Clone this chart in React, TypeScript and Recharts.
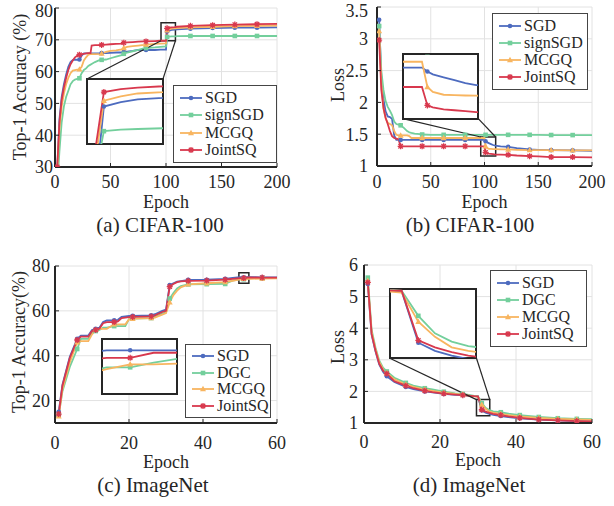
import React from 'react'
import {
  LineChart,
  Line,
  XAxis,
  YAxis,
  CartesianGrid,
  ReferenceArea,
  ReferenceLine,
} from 'recharts'

const FONT = '"Liberation Serif", "Times New Roman", Times, serif'
const INK = '#262626'
const colors = ['#4d6bbf', '#73cf9c', '#f8b560', '#d8384d']
const keys = ['s0', 's1', 's2', 's3']

const cifarNames = ['SGD', 'signSGD', 'MCGQ', 'JointSQ']
const imagenetNames = ['SGD', 'DGC', 'MCGQ', 'JointSQ']

// (a) CIFAR-100 top-1 accuracy
const epochsA = [2, 4, 6, 8, 10, 12, 14, 16, 18, 20, 22, 24, 26, 28, 30, 32, 33, 36, 40, 42, 46, 50, 55, 60, 62, 65, 70, 75, 80, 82, 90, 95, 100, 101, 103, 105, 108, 110, 122, 142, 162, 182, 200]
const sgdA = [29, 45, 52, 56, 59, 61.5, 63, 63.6, 63.8, 63.7, 63.8, 65, 65.7, 65.7, 65.7, 65.7, 65.7, 65.7, 65.7, 65.8, 65.8, 65.9, 66, 66, 66.2, 66.3, 66.5, 66.8, 66.8, 66.8, 66.8, 66.9, 66.9, 72.6, 72.9, 73.1, 73.2, 73.3, 73.5, 73.7, 73.8, 73.8, 73.9]
const signA = [24, 35, 44, 49, 52, 54, 56, 57, 57.5, 57.7, 57.9, 59.5, 60.5, 61, 61.8, 62.2, 62.4, 63, 63.6, 63.7, 63.8, 64.2, 64.7, 65.2, 65.6, 66, 66.4, 66.8, 67.3, 67.4, 67.6, 67.8, 67.9, 70.9, 71, 71.05, 71.1, 71.15, 71.2, 71.2, 71.2, 71.2, 71.2]
const mcgqA = [29, 42, 49, 53, 56, 58, 59.5, 60.3, 60.5, 60.6, 60.7, 61.5, 63.5, 64.5, 65.3, 65.5, 65.5, 65.5, 65.6, 65.7, 66.2, 66.5, 66.7, 67, 67.4, 67.8, 68, 68.2, 68.4, 68.5, 68.7, 68.8, 68.9, 73, 73.3, 73.5, 73.6, 73.7, 73.9, 74.1, 74.3, 74.4, 74.5]
const jointA = [30, 44, 51, 55, 58, 60.5, 62.3, 63.5, 64.5, 65, 65.3, 65.5, 65.6, 65.7, 65.8, 65.8, 68.2, 68.3, 68.3, 68.4, 68.5, 68.6, 68.7, 68.8, 69.1, 69.2, 69.3, 69.4, 69.5, 69.5, 69.6, 69.7, 69.7, 73.6, 73.8, 73.9, 74, 74.1, 74.4, 74.6, 74.8, 74.9, 75]

// (b) CIFAR-100 loss
const epochsB = [2, 4, 6, 8, 10, 12, 14, 16, 18, 20, 22, 25, 28, 30, 32, 35, 40, 42, 50, 62, 82, 95, 100, 101, 102, 104, 106, 108, 110, 115, 122, 130, 142, 150, 162, 182, 200]
const sgdB = [3.3, 2.4, 2.05, 1.86, 1.78, 1.77, 1.74, 1.48, 1.41, 1.41, 1.41, 1.41, 1.41, 1.41, 1.41, 1.41, 1.41, 1.41, 1.41, 1.41, 1.41, 1.41, 1.41, 1.39, 1.375, 1.36, 1.345, 1.33, 1.32, 1.31, 1.3, 1.28, 1.26, 1.255, 1.25, 1.245, 1.24]
const signB = [3.2, 2.5, 2.2, 2.02, 1.93, 1.87, 1.8, 1.7, 1.66, 1.65, 1.64, 1.6, 1.55, 1.53, 1.52, 1.51, 1.5, 1.495, 1.49, 1.49, 1.49, 1.49, 1.49, 1.49, 1.49, 1.49, 1.49, 1.49, 1.49, 1.49, 1.49, 1.49, 1.49, 1.488, 1.487, 1.486, 1.485]
const mcgqB = [3.12, 2.3, 1.9, 1.75, 1.68, 1.66, 1.64, 1.55, 1.49, 1.48, 1.48, 1.48, 1.48, 1.47, 1.44, 1.44, 1.44, 1.44, 1.44, 1.44, 1.44, 1.44, 1.44, 1.31, 1.285, 1.27, 1.268, 1.266, 1.265, 1.262, 1.26, 1.255, 1.25, 1.25, 1.25, 1.245, 1.245]
const jointB = [2.98, 2.2, 1.92, 1.76, 1.66, 1.55, 1.47, 1.44, 1.43, 1.42, 1.31, 1.31, 1.31, 1.31, 1.31, 1.31, 1.31, 1.31, 1.31, 1.31, 1.31, 1.31, 1.31, 1.215, 1.205, 1.195, 1.19, 1.185, 1.18, 1.18, 1.175, 1.165, 1.155, 1.15, 1.14, 1.14, 1.135]

// (c) ImageNet top-1 accuracy
const epochsC = [1, 2, 4, 6, 7, 9, 10, 11, 12, 13, 14, 16, 17, 18, 19, 20, 21, 26, 27, 29, 30, 31, 32, 33, 34, 36, 41, 46, 47, 48, 50, 51, 52, 53, 56, 60]
const sgdC = [15, 27, 39.5, 47.5, 49, 49, 51.5, 52, 52.5, 55, 55.7, 55.8, 56, 57.3, 57.5, 57.7, 57.8, 58, 58.5, 60, 60.5, 71.5, 72.3, 73, 73.3, 73.8, 73.9, 74.3, 74.5, 74.7, 75, 75, 75, 75, 74.95, 74.95]
const dgcC = [13.5, 24, 35, 43, 47.5, 47.5, 50.5, 51, 51.5, 52.5, 52.5, 53.2, 53.2, 53.2, 53.2, 56.3, 56.5, 56.8, 57.3, 58.8, 59.3, 65.5, 68, 70, 71, 71.8, 71.9, 72, 72.8, 73.5, 74.1, 74.1, 74.35, 74.55, 74.55, 74.55]
const mcgqC = [13, 25, 37, 46, 46.5, 46.5, 49.5, 51.5, 52, 52, 52, 54, 54, 54, 54, 56.2, 56.5, 56.8, 57, 58.3, 59, 63.8, 67, 69, 70.5, 71.8, 72.3, 72.8, 73.1, 73.4, 74, 74.26, 74.26, 74.3, 74.4, 74.45]
const jointC = [14, 26.5, 39, 47, 48.5, 48.5, 51, 51.5, 52, 54.5, 55, 55, 55.3, 56.8, 57, 57.2, 57.3, 57.5, 58, 59.5, 60, 70.8, 72, 72.8, 73.1, 73.4, 73.5, 73.9, 74.1, 74.3, 74.6, 74.6, 74.87, 74.87, 74.85, 74.85]

// (d) ImageNet loss
const epochsD = [1, 2, 3, 4, 5, 6, 8, 11, 13, 16, 18, 21, 24, 26, 28, 29, 30, 31, 32, 33, 34, 36, 38, 41, 46, 51, 56, 60]
const sgdD = [5.4, 3.8, 3.28, 2.85, 2.62, 2.48, 2.3, 2.14, 2.07, 2.0, 1.97, 1.92, 1.89, 1.88, 1.86, 1.85, 1.84, 1.4, 1.33, 1.29, 1.26, 1.22, 1.19, 1.15, 1.11, 1.08, 1.06, 1.05]
const dgcD = [5.6, 3.95, 3.4, 2.98, 2.75, 2.63, 2.43, 2.27, 2.18, 2.1, 2.06, 1.99, 1.94, 1.92, 1.88, 1.86, 1.845, 1.63, 1.48, 1.41, 1.37, 1.34, 1.3, 1.25, 1.19, 1.15, 1.13, 1.12]
const mcgqD = [5.5, 3.88, 3.35, 2.93, 2.7, 2.58, 2.38, 2.22, 2.14, 2.06, 2.02, 1.96, 1.92, 1.9, 1.86, 1.84, 1.83, 1.58, 1.45, 1.36, 1.33, 1.29, 1.25, 1.21, 1.16, 1.13, 1.11, 1.1]
const jointD = [5.45, 3.82, 3.3, 2.88, 2.66, 2.56, 2.32, 2.18, 2.1, 2.02, 1.98, 1.93, 1.9, 1.88, 1.86, 1.85, 1.845, 1.42, 1.36, 1.32, 1.29, 1.25, 1.21, 1.16, 1.11, 1.08, 1.06, 1.05]

// epochs where a marker is drawn
const cifarMarks = [2, 22, 42, 62, 82, 101, 122, 142, 162, 182]
const imagenetMarks = [1, 6, 11, 16, 21, 26, 31, 36, 41, 46, 51, 56]

const toRows = (epochs: number[], s: number[][]) =>
  epochs.map((epoch, i) => ({ epoch, s0: s[0][i], s1: s[1][i], s2: s[2][i], s3: s[3][i] }))

const marker = (kind: number, cx: number, cy: number, color: string, key?: string) => {
  if (kind === 0) return <circle key={key} cx={cx} cy={cy} r={2.3} fill={color} />
  if (kind === 1) return <rect key={key} x={cx - 2.3} y={cy - 2.3} width={4.6} height={4.6} fill={color} />
  if (kind === 2)
    return <polygon key={key} points={`${cx},${cy - 3.2} ${cx - 3},${cy + 2.2} ${cx + 3},${cy + 2.2}`} fill={color} />
  return (
    <path
      key={key}
      d={`M${cx - 3},${cy}H${cx + 3}M${cx},${cy - 3}V${cy + 3}M${cx - 2.2},${cy - 2.2}L${cx + 2.2},${cy + 2.2}M${cx - 2.2},${cy + 2.2}L${cx + 2.2},${cy - 2.2}`}
      stroke={color}
      strokeWidth={1.3}
    />
  )
}

const dotFor = (kind: number, marks: number[]) => (props: any) => {
  const { cx, cy, payload, index } = props
  const key = `d${kind}-${index}`
  if (cx == null || cy == null || !marks.includes(payload.epoch)) return <g key={key} />
  return marker(kind, cx, cy, colors[kind], key)
}

const seriesLines = (marks: number[]) =>
  keys.map((k, i) => (
    <Line
      key={k}
      dataKey={k}
      type='linear'
      stroke={colors[i]}
      strokeWidth={1.8}
      dot={dotFor(i, marks)}
      activeDot={false}
      isAnimationActive={false}
    />
  ))

const Text = ({ x, y, size, children, rotate }: any) => (
  <div
    style={{
      position: 'absolute',
      left: x,
      top: y,
      transform: `translate(-50%, -50%)${rotate ? ' rotate(-90deg)' : ''}`,
      fontFamily: FONT,
      fontSize: size,
      lineHeight: 1,
      whiteSpace: 'nowrap',
      color: INK,
    }}
  >
    {children}
  </div>
)

const LegendBox = ({ names, box }: any) => (
  <div
    style={{
      position: 'absolute',
      left: box.left,
      top: box.top,
      width: box.width,
      height: box.height,
      boxSizing: 'border-box',
      border: '1px solid #454545',
      background: '#fff',
      padding: '3px 0 3px 6px',
      display: 'flex',
      flexDirection: 'column',
      justifyContent: 'space-around',
      fontFamily: FONT,
      fontSize: 16,
      color: INK,
    }}
  >
    {names.map((n: string, i: number) => (
      <div key={n} style={{ display: 'flex', alignItems: 'center', lineHeight: 1 }}>
        <svg width={23} height={10} style={{ flex: 'none' }}>
          <line x1={0} y1={5} x2={22} y2={5} stroke={colors[i]} strokeWidth={1.8} />
          {marker(i, 11, 5, colors[i])}
        </svg>
        <span style={{ marginLeft: 2 }}>{n}</span>
      </div>
    ))}
  </div>
)

function Panel(p: any) {
  const { x, y, w, h, plot, rows, marks, xDomain, yDomain, xTicks, yTicks, inset } = p
  const px = (v: number) => plot.left + ((v - xDomain[0]) / (xDomain[1] - xDomain[0])) * (plot.right - plot.left)
  const py = (v: number) => plot.top + ((yDomain[1] - v) / (yDomain[1] - yDomain[0])) * (plot.bottom - plot.top)
  const il = px(inset.box[0])
  const ir = px(inset.box[1])
  const it = py(inset.box[3])
  const ib = py(inset.box[2])
  const axisLine = { stroke: INK, strokeWidth: 2 }
  const tickStyle = { fill: INK, fontSize: 18, fontFamily: FONT }

  return (
    <div style={{ position: 'absolute', left: x, top: y, width: w, height: h }}>
      <LineChart
        width={w}
        height={h}
        data={rows}
        margin={{ top: plot.top, right: w - plot.right, bottom: h - plot.bottom - 30, left: plot.left - 40 }}
      >
        <CartesianGrid stroke='#e2e2e2' />
        <XAxis
          dataKey='epoch'
          type='number'
          domain={xDomain}
          ticks={xTicks}
          allowDataOverflow
          height={30}
          tickSize={-4}
          tickMargin={p.xTickMargin}
          axisLine={axisLine}
          tickLine={{ stroke: INK }}
          tick={tickStyle}
        />
        <XAxis
          xAxisId='top'
          orientation='top'
          type='number'
          domain={xDomain}
          ticks={xTicks}
          height={0}
          tickSize={-4}
          tickFormatter={() => ''}
          axisLine={axisLine}
          tickLine={{ stroke: INK }}
        />
        <YAxis
          type='number'
          domain={yDomain}
          ticks={yTicks}
          allowDataOverflow
          width={40}
          tickSize={-4}
          tickMargin={p.yTickMargin}
          axisLine={axisLine}
          tickLine={{ stroke: INK }}
          tick={tickStyle}
        />
        <YAxis
          yAxisId='right'
          orientation='right'
          type='number'
          domain={yDomain}
          ticks={yTicks}
          width={0}
          tickSize={-4}
          tickFormatter={() => ''}
          axisLine={axisLine}
          tickLine={{ stroke: INK }}
        />
        {seriesLines(marks)}
        <ReferenceArea
          x1={inset.zoom[0]}
          x2={inset.zoom[1]}
          y1={inset.zoom[2]}
          y2={inset.zoom[3]}
          fill='none'
          stroke={INK}
          strokeWidth={1.5}
          ifOverflow='visible'
        />
        {inset.links.map((l: number[], i: number) => (
          <ReferenceLine
            key={i}
            segment={[
              { x: l[0], y: l[1] },
              { x: l[2], y: l[3] },
            ]}
            stroke={INK}
            strokeWidth={1.2}
            ifOverflow='visible'
          />
        ))}
      </LineChart>

      <div
        style={{
          position: 'absolute',
          left: il,
          top: it,
          width: ir - il,
          height: ib - it,
          background: '#fff',
          outline: `2.5px solid ${INK}`,
          outlineOffset: -1,
        }}
      >
        <LineChart width={ir - il} height={ib - it} data={rows} margin={{ top: 0, right: 0, bottom: 0, left: 0 }}>
          <XAxis dataKey='epoch' type='number' domain={inset.xDomain} allowDataOverflow hide />
          <YAxis type='number' domain={inset.yDomain} allowDataOverflow hide />
          {seriesLines(marks)}
        </LineChart>
      </div>

      <LegendBox names={p.names} box={p.legend} />
      <Text x={p.yLabelAt[0]} y={p.yLabelAt[1]} size={18} rotate>
        {p.yLabel}
      </Text>
      <Text x={p.xLabelAt[0]} y={p.xLabelAt[1]} size={18}>
        Epoch
      </Text>
      <Text x={p.captionAt[0]} y={p.captionAt[1]} size={21}>
        {p.caption}
      </Text>
    </div>
  )
}

const rowsA = toRows(epochsA, [sgdA, signA, mcgqA, jointA])
const rowsB = toRows(epochsB, [sgdB, signB, mcgqB, jointB])
const rowsC = toRows(epochsC, [sgdC, dgcC, mcgqC, jointC])
const rowsD = toRows(epochsD, [sgdD, dgcD, mcgqD, jointD])

export default function App() {
  return (
    <div style={{ position: 'absolute', left: 0, top: 0, width: 614, height: 506, background: '#fff' }}>
      <Panel
        x={0}
        y={0}
        w={307}
        h={250}
        plot={{ left: 55, top: 8, right: 277, bottom: 167 }}
        rows={rowsA}
        marks={cifarMarks}
        names={cifarNames}
        xDomain={[0, 200]}
        xTicks={[0, 50, 100, 150, 200]}
        yDomain={[30, 80]}
        yTicks={[30, 40, 50, 60, 70, 80]}
        xTickMargin={12}
        yTickMargin={6}
        yLabel='Top-1 Accuracy (%)'
        yLabelAt={[20, 87]}
        xLabelAt={[166, 202]}
        caption='(a) CIFAR-100'
        captionAt={[160, 225]}
        legend={{ left: 173, top: 85, width: 104, height: 78 }}
        inset={{
          box: [28.8, 97.3, 37.2, 57.7],
          xDomain: [99, 108],
          yDomain: [70, 74.5],
          zoom: [95.5, 108.5, 69.7, 75.4],
          links: [
            [95.5, 69.7, 28.8, 57.7],
            [108.5, 69.7, 97.3, 57.7],
          ],
        }}
      />
      <Panel
        x={307}
        y={0}
        w={307}
        h={250}
        plot={{ left: 70, top: 7, right: 285, bottom: 166 }}
        rows={rowsB}
        marks={cifarMarks}
        names={cifarNames}
        xDomain={[0, 200]}
        xTicks={[0, 50, 100, 150, 200]}
        yDomain={[1, 3.5]}
        yTicks={[1, 1.5, 2, 2.5, 3, 3.5]}
        xTickMargin={13}
        yTickMargin={13}
        yLabel='Loss'
        yLabelAt={[30.5, 85]}
        xLabelAt={[177.5, 202]}
        caption='(b) CIFAR-100'
        captionAt={[163, 225]}
        legend={{ left: 185, top: 13, width: 96, height: 77 }}
        inset={{
          box: [24.1, 94.2, 1.745, 2.767],
          xDomain: [96.5, 110.4],
          yDomain: [1.145, 1.48],
          zoom: [96.5, 110.4, 1.156, 1.456],
          links: [
            [24.1, 1.745, 96.5, 1.456],
            [94.2, 1.745, 110.4, 1.456],
          ],
        }}
      />
      <Panel
        x={0}
        y={250}
        w={307}
        h={256}
        plot={{ left: 55, top: 16, right: 277, bottom: 173 }}
        rows={rowsC}
        marks={imagenetMarks}
        names={imagenetNames}
        xDomain={[0, 60]}
        xTicks={[0, 20, 40, 60]}
        yDomain={[10, 80]}
        yTicks={[20, 40, 60, 80]}
        xTickMargin={17}
        yTickMargin={9}
        yLabel='Top-1 Accuracy(%)'
        yLabelAt={[19, 92]}
        xLabelAt={[166, 212]}
        caption='(c) ImageNet'
        captionAt={[153, 235]}
        legend={{ left: 185, top: 94, width: 86, height: 74 }}
        inset={{
          box: [12.7, 33.0, 22.9, 47.3],
          xDomain: [49.8, 53],
          yDomain: [72.7, 75.6],
          zoom: [49.7, 52.4, 72.3, 77.0],
          links: [],
        }}
      />
      <Panel
        x={307}
        y={250}
        w={307}
        h={256}
        plot={{ left: 57, top: 15, right: 285, bottom: 173 }}
        rows={rowsD}
        marks={imagenetMarks}
        names={imagenetNames}
        xDomain={[0, 60]}
        xTicks={[0, 20, 40, 60]}
        yDomain={[1, 6]}
        yTicks={[1, 2, 3, 4, 5, 6]}
        xTickMargin={16}
        yTickMargin={10}
        yLabel='Loss'
        yLabelAt={[30.5, 97]}
        xLabelAt={[171, 210]}
        caption='(d) ImageNet'
        captionAt={[162, 235]}
        legend={{ left: 183, top: 20, width: 97, height: 77 }}
        inset={{
          box: [6.8, 29.6, 3.05, 5.23],
          xDomain: [29.3, 34.5],
          yDomain: [1.27, 1.86],
          zoom: [29.6, 33.1, 1.23, 1.74],
          links: [
            [6.8, 3.05, 29.6, 1.74],
            [29.6, 3.05, 33.1, 1.74],
          ],
        }}
      />
    </div>
  )
}
